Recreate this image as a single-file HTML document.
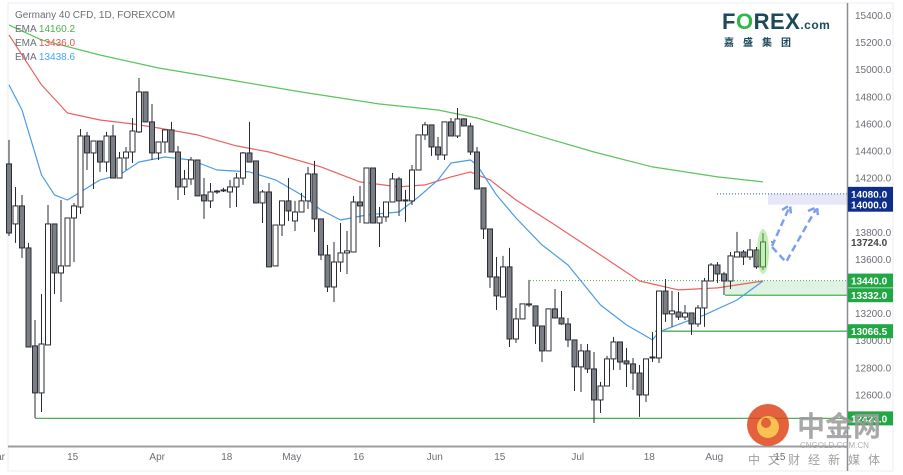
<!DOCTYPE html>
<html><head><meta charset="utf-8"><style>
html,body{margin:0;padding:0;background:#fff;}
svg{display:block;font-family:"Liberation Sans","Noto Sans CJK SC",sans-serif;}
</style></head><body>
<svg id="chart" width="903" height="475" viewBox="0 0 903 475">
<rect x="0" y="0" width="903" height="475" fill="#fff"/>
<rect x="8" y="3" width="885" height="468" fill="none" stroke="#eceef2" stroke-width="1"/>
<g id="zones"></g>
<g id="emas"></g>
<g id="candles"></g>
<g id="overlay"></g>
<line x1="847.5" y1="3" x2="847.5" y2="471" stroke="#8a8d93" stroke-width="1.5"/>
<line x1="8" y1="446.5" x2="847" y2="446.5" stroke="#9a9da3" stroke-width="2"/>
<g id="yaxis"></g>
<g id="xaxis"></g>
<g font-size="10">
<text x="15" y="18" fill="#6b6e75">Germany 40 CFD, 1D, FOREXCOM</text>
<text x="15" y="32" fill="#6b6e75">EMA <tspan fill="#4caf50">14160.2</tspan></text>
<text x="15" y="46" fill="#6b6e75">EMA <tspan fill="#ef5350">13436.0</tspan></text>
<text x="15" y="60" fill="#6b6e75">EMA <tspan fill="#42a5f5">13438.6</tspan></text>
</g>
<g>
<text x="722" y="29" font-size="22" font-weight="bold" fill="#1c4a5a" letter-spacing="0.5">F<tspan fill="#2eb84b">O</tspan>REX<tspan font-size="12">.com</tspan></text>
<text x="724" y="46" font-size="10" font-weight="bold" fill="#1c4a5a" letter-spacing="9">嘉盛集团</text>
</g>
<g opacity="0.85">
<circle cx="768" cy="425" r="21" fill="#e0461c"/>
<circle cx="768" cy="427" r="11" fill="#f7b733"/>
<circle cx="766" cy="423" r="5" fill="#e0461c"/>
<text x="797" y="436" font-size="28" font-weight="bold" fill="#9a9a9a">中金网</text>
<text x="800" y="448" font-size="8" fill="#a0a0a0">CNGOLD.COM.CN</text>
<text x="748" y="464" font-size="12" fill="#909090" letter-spacing="8">中文财经新媒体</text>
</g>
</svg>
<script>
// ---- data (prices) ----
const opens  = [14301,13858,13991,13681,12958,12611,12965,13858,13496,13548,13902,13983,14507,14382,14470,14315,14507,14197,14345,14389,14537,14832,14611,14382,14463,14552,14389,14131,14190,14330,14072,14028,14094,14109,14094,14131,14197,14382,14323,14013,14094,13548,13850,14028,13880,13946,14028,14227,13895,13629,13393,13577,13644,13651,14020,13865,14271,13865,13910,14020,14190,14028,14028,14256,14515,14589,14426,14367,14611,14507,14633,14581,14389,14124,13821,13467,13319,13541,13009,13157,13260,13253,13105,12921,13231,13164,13120,13002,12803,12921,12788,12559,12662,12862,12987,12847,12825,12758,12596,12869,12869,13363,13194,13208,13171,13201,13120,13238,13437,13555,13489,13437,13614,13651,13614,13666,13541];
const highs  = [14478,14131,14072,13718,13149,13341,13998,13858,14035,13902,14013,14559,14537,14470,14470,14537,14589,14389,14426,14640,14935,14832,14743,14463,14552,14611,14433,14256,14352,14330,14197,14160,14109,14124,14183,14234,14389,14611,14323,14109,14160,13850,14028,14197,14028,14087,14279,14323,13895,13703,13725,13865,13806,14065,14138,14271,14271,13983,14020,14234,14205,14109,14293,14515,14611,14589,14500,14611,14640,14714,14640,14603,14426,14124,13821,13614,13622,13681,13238,13268,13445,13253,13105,13231,13378,13363,13164,13002,12972,12972,12913,12692,12884,13024,12987,12943,12869,12817,12862,13061,13363,13452,13363,13356,13260,13201,13260,13459,13570,13577,13504,13651,13799,13666,13747,13688,13791];
const lows   = [13769,13718,13607,12950,12426,12470,12965,13341,13282,13548,13577,13932,14256,14116,14242,14242,14197,14197,14256,14308,14529,14611,14330,14330,14382,14389,14035,14072,14146,14065,13895,13976,14079,14094,13976,13983,14146,14315,14013,13865,13541,13548,13769,13880,13806,13946,13969,13799,13592,13356,13282,13504,13489,13651,13865,13865,13865,13688,13873,14020,13917,13873,13998,14256,14478,14360,14330,14330,14507,14492,14581,14367,14116,13747,13386,13223,13319,12950,12980,13157,13245,12972,12839,12921,13164,13113,12950,12625,12618,12758,12389,12463,12662,12781,12781,12655,12633,12434,12544,12839,12832,13135,13098,13149,13149,13038,13098,13098,13437,13422,13334,13378,13614,13555,13592,13526,13518];
const closes = [13791,13991,13681,12950,12611,12972,13858,13496,13548,13902,13991,14507,14382,14470,14315,14507,14197,14345,14389,14544,14832,14611,14382,14463,14552,14389,14131,14190,14330,14065,14028,14094,14101,14109,14131,14197,14382,14315,14013,14094,13541,13850,14028,13954,13946,14028,14227,13895,13629,13393,13577,13644,13659,14020,13991,14271,13865,13910,14020,14190,14028,14035,14256,14515,14589,14426,14367,14611,14507,14633,14581,14389,14116,13821,13467,13327,13541,13009,13157,13268,13268,13105,12921,13231,13164,13120,13002,12803,12921,12788,12559,12662,12862,12987,12839,12825,12758,12596,12862,12876,13363,13194,13216,13171,13201,13120,13238,13437,13555,13489,13437,13622,13651,13614,13666,13541,13725];
// EMA samples: candle index -> value
const ema200Idx = [0,5,14,23,34,45,57,66,72,81,90,99,109,116];
const ema200Val = [15327,15216,15105,15009,14921,14832,14743,14699,14640,14515,14389,14279,14205,14168];
const ema50Idx = [0,5,9,14,19,23,29,35,40,48,54,60,64,68,71,74,78,84,91,97,103,109,116];
const ema50Val = [15253,14884,14677,14625,14596,14566,14515,14434,14389,14279,14168,14131,14146,14205,14242,14183,14035,13850,13629,13437,13371,13386,13437];
const ema20Idx = [0,2,5,7,9,11,14,17,20,24,28,32,37,41,45,48,51,55,60,63,66,68,71,72,75,78,82,86,91,95,99,100,104,107,112,116];
const ema20Val = [14884,14699,14220,14072,14035,14094,14183,14220,14315,14352,14330,14256,14242,14183,14072,13961,13887,13924,13946,14057,14183,14308,14330,14293,14072,13902,13703,13555,13260,13113,13002,13061,13135,13187,13297,13437];
const yTicks = [15400,15200,15000,14800,14600,14400,14200,13800,13600,13200,13000,12800,12600];
const xLabels = ["ar","15","Apr","18","May","16","Jun","15","Jul","18","Aug","15"];
const xLabelIdx = [-1.3,9.8,22.8,33.5,43.5,53.8,65.5,75.5,87.5,98.5,108.5,118.6];
const levels = [14080,14000,13724,13440,13332,13066.5,12423];

// ---- axes ----
const NS="http://www.w3.org/2000/svg";
const X0=9, STEP=754/116;
function xs(i){return X0+i*STEP;}
function ys(p){return 15+(15400-p)*0.1355;}
function mk(tag,attrs,parent){const e=document.createElementNS(NS,tag);for(const k in attrs)e.setAttribute(k,attrs[k]);parent.appendChild(e);return e;}

// zones & levels
const zones=document.getElementById('zones');
let z=mk('rect',{x:768,y:ys(levels[0]),width:79,height:ys(levels[1])-ys(levels[0]),fill:'#e6e8f7'},zones);


z=mk('line',{x1:717,x2:847,y1:ys(levels[0]),y2:ys(levels[0]),stroke:'#3f51b5','stroke-dasharray':'1,2','stroke-width':1},zones);


z=mk('rect',{x:725,y:ys(levels[3]),width:122,height:ys(levels[4])-ys(levels[3]),fill:'#dff2e3'},zones);


z=mk('line',{x1:530,x2:847,y1:ys(levels[3]),y2:ys(levels[3]),stroke:'#4caf50','stroke-dasharray':'1,2','stroke-width':1},zones);


z=mk('line',{x1:725,x2:847,y1:ys(levels[4]),y2:ys(levels[4]),stroke:'#4caf50','stroke-width':1.3},zones);


z=mk('line',{x1:655,x2:847,y1:ys(levels[5]),y2:ys(levels[5]),stroke:'#4caf50','stroke-width':1.3},zones);


z=mk('line',{x1:35,x2:847,y1:ys(levels[6]),y2:ys(levels[6]),stroke:'#4caf50','stroke-width':1.3},zones);



// EMAs
function emaPath(idx,val,color,name){
  let d='';idx.forEach((i,k)=>{d+=(k?'L':'M')+xs(i).toFixed(1)+','+ys(val[k]).toFixed(1);});
  const p=mk('path',{d:d,fill:'none',stroke:color,'stroke-width':1.2,'stroke-linejoin':'round'},document.getElementById('emas'));
  
  
}
emaPath(ema200Idx,ema200Val,'#5cc35f','ema-200-line');
emaPath(ema50Idx,ema50Val,'#e8625f','ema-50-line');
emaPath(ema20Idx,ema20Val,'#4c9be8','ema-20-line');

// candles
const cg=document.getElementById('candles');
opens.forEach((o,i)=>{
  const c=closes[i],x=xs(i),bear=c<o;
  const g=mk('g',{},cg);
  
  
  mk('line',{x1:x,x2:x,y1:ys(highs[i]),y2:ys(lows[i]),stroke:'#2a2d33','stroke-width':1},g);
  const top=ys(Math.max(o,c)),h=Math.max(1,ys(Math.min(o,c))-top);
  mk('rect',{x:x-2.5,y:top,width:5,height:h,fill:bear?'#7b7e85':'#fff',stroke:'#2a2d33','stroke-width':1},g);
});

// overlay: highlight ellipse and arrows
const ov=document.getElementById('overlay');
const li=opens.length-1;
let e=mk('ellipse',{cx:xs(li),cy:(ys(highs[li])+ys(lows[li]))/2,rx:6,ry:(ys(lows[li])-ys(highs[li]))/2+4,fill:'rgba(120,220,90,0.45)'},ov);


e=mk('line',{x1:xs(li)+8,y1:ys(closes[li]),x2:xs(li)+12,y2:ys(closes[li]),stroke:'#333','stroke-width':1},ov);


e=mk('path',{d:'M772,246 L789,208 M782,210 L790,205 L791,214',fill:'none',stroke:'#7e9ef0','stroke-width':2.5,'stroke-dasharray':'7,4'},ov);


e=mk('path',{d:'M772,247 L786,262 L816,209 M808,211 L817,207 L818,216',fill:'none',stroke:'#7e9ef0','stroke-width':2.5,'stroke-dasharray':'7,4'},ov);



// y axis
const ya=document.getElementById('yaxis');
yTicks.forEach(p=>{
  const t=mk('text',{x:855,y:ys(p)+4,'font-size':10,fill:'#6b6e75'},ya);
  t.textContent=p.toFixed(1);
  
  
});
function tag(p,bg,fg,name){
  const y=ys(p);
  if(bg){const r=mk('rect',{x:848,y:y-7,width:45,height:14,fill:bg},ya);
    
    }
  const t=mk('text',{x:851,y:y+4,'font-size':10,'font-weight':'bold',fill:fg},ya);
  t.textContent=p.toFixed(1);
  
  
}
tag(levels[0],'#0d2f8a','#fff','price-tag-14080');
tag(levels[1],'#0d2f8a','#fff','price-tag-14000');
tag(levels[2],null,'#444','price-tag-13724');
tag(levels[3],'#21a844','#fff','price-tag-13440');
tag(levels[4],'#21a844','#fff','price-tag-13332');
tag(levels[5],'#21a844','#fff','price-tag-13066');
tag(levels[6],'#21a844','#fff','price-tag-12423');

// x axis
const xa=document.getElementById('xaxis');
xLabels.forEach((l,k)=>{
  const t=mk('text',{x:xs(xLabelIdx[k]),y:460,'font-size':10,fill:'#6b6e75','text-anchor':'middle'},xa);
  t.textContent=l;
  
  
});
</script>
</body></html>
